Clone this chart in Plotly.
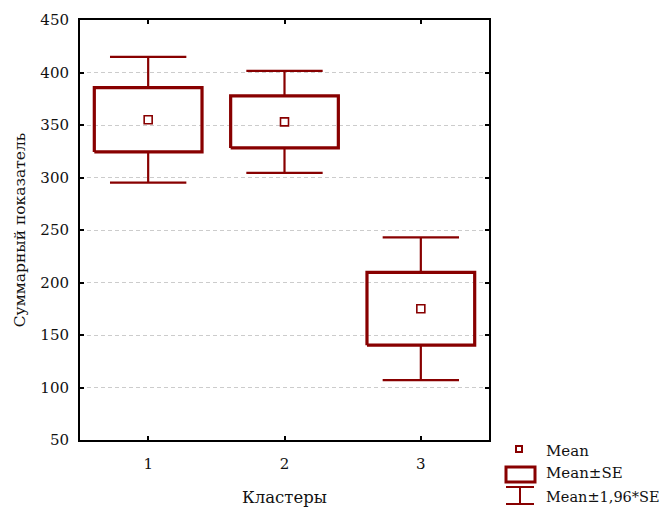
import plotly.graph_objects as go

# Cluster summaries: mean and standard error of the summary score
clusters = [1, 2, 3]
means = [355.0, 353.0, 175.0]
se = [30.6, 24.8, 34.7]
ci_factor = 1.96

y_ticks = [50, 100, 150, 200, 250, 300, 350, 400, 450]

RED = "#880000"
FONT = "DejaVu Serif"
BOX_HALF = 0.395
CAP_HALF = 0.28

fig = go.Figure()

# Mean ± SE boxes
bx, by = [], []
for c, m, s in zip(clusters, means, se):
    lo, hi = m - s, m + s
    bx += [c - BOX_HALF, c + BOX_HALF, c + BOX_HALF, c - BOX_HALF, c - BOX_HALF, None]
    by += [lo, lo, hi, hi, lo, None]

# Mean ± 1.96*SE whiskers with caps (stems stop at the box edges)
wx, wy = [], []
for c, m, s in zip(clusters, means, se):
    lo, hi = m - ci_factor * s, m + ci_factor * s
    wx += [c, c, None, c, c, None]
    wy += [m + s, hi, None, m - s, lo, None]
    wx += [c - CAP_HALF, c + CAP_HALF, None, c - CAP_HALF, c + CAP_HALF, None]
    wy += [hi, hi, None, lo, lo, None]

fig.add_trace(go.Scatter(x=wx, y=wy, mode="lines",
                         line=dict(color=RED, width=2.2), hoverinfo="skip",
                         showlegend=False))
fig.add_trace(go.Scatter(x=bx, y=by, mode="lines",
                         line=dict(color=RED, width=3.2), hoverinfo="skip",
                         showlegend=False))
fig.add_trace(go.Scatter(x=clusters, y=means, mode="markers",
                         marker=dict(symbol="square-open", size=8, color=RED,
                                     line=dict(width=1.6, color=RED)),
                         showlegend=False))

# Plot area geometry in pixels (used for the hand-drawn legend)
L, R, T, B = 80, 175, 20, 67
W, H = 664, 507
pw, ph = W - L - R, H - T - B


def px(xp):
    return (xp - L) / pw


def py(yp):
    return (H - B - yp) / ph


shapes = []
annotations = []

# Legend: mean marker
shapes.append(dict(type="rect", xref="paper", yref="paper",
                   x0=px(516), x1=px(522), y0=py(452), y1=py(446),
                   line=dict(color=RED, width=2), fillcolor="white"))
annotations.append(dict(text="Mean", xref="paper", yref="paper", x=px(544), y=py(451),
                        xanchor="left", yanchor="middle", showarrow=False))
# Legend: box
shapes.append(dict(type="rect", xref="paper", yref="paper",
                   x0=px(506), x1=px(535), y0=py(482), y1=py(467),
                   line=dict(color=RED, width=3), fillcolor="white"))
annotations.append(dict(text="Mean±SE", xref="paper", yref="paper", x=px(544), y=py(473),
                        xanchor="left", yanchor="middle", showarrow=False))
# Legend: whisker
for y0, y1 in [(487, 487), (504, 504)]:
    shapes.append(dict(type="line", xref="paper", yref="paper",
                       x0=px(506), x1=px(534), y0=py(y0), y1=py(y1),
                       line=dict(color=RED, width=2)))
shapes.append(dict(type="line", xref="paper", yref="paper",
                   x0=px(520), x1=px(520), y0=py(487), y1=py(504),
                   line=dict(color=RED, width=2)))
annotations.append(dict(text="Mean±1,96*SE", xref="paper", yref="paper", x=px(544), y=py(497),
                        xanchor="left", yanchor="middle", showarrow=False,
                        font=dict(size=14.5)))

fig.update_layout(
    width=W, height=H,
    margin=dict(l=L, r=R, t=T, b=B, autoexpand=False),
    paper_bgcolor="white", plot_bgcolor="white",
    font=dict(family=FONT, size=15, color="#111111"),
    shapes=shapes, annotations=annotations,
    showlegend=False,
)

fig.update_xaxes(
    range=[0.5, 3.5], tickvals=clusters, ticktext=[str(c) for c in clusters],
    showline=True, linecolor="black", linewidth=2, mirror="ticks",
    ticks="inside", ticklen=4, tickwidth=2, tickcolor="black",
    showgrid=False, zeroline=False, ticklabelstandoff=9, automargin=False,
    title=dict(text="Кластеры", standoff=20, font=dict(size=16.5)),
)
fig.update_yaxes(
    range=[50, 450], tickvals=y_ticks,
    showline=True, linecolor="black", linewidth=2, mirror="ticks",
    ticks="inside", ticklen=4, tickwidth=2, tickcolor="black",
    showgrid=True, gridcolor="#cccccc", gridwidth=1, griddash="4px,3px",
    zeroline=False, ticklabelstandoff=6, automargin=False,
    title=dict(text="Суммарный показатель", standoff=11, font=dict(size=15.5)),
)

fig.write_html("out.html")
